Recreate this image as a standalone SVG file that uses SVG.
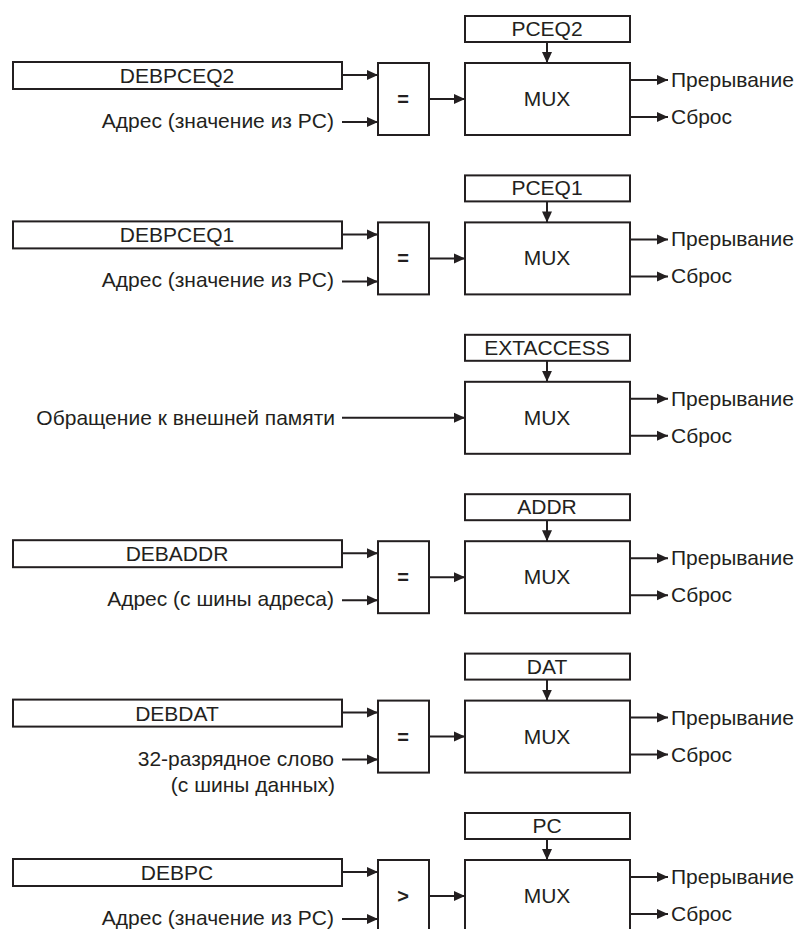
<svg xmlns="http://www.w3.org/2000/svg" width="798" height="929" viewBox="0 0 798 929">
<style>
.b{fill:#fff;stroke:#231f20;stroke-width:2}
.t{font-family:"Liberation Sans",Arial,sans-serif;font-size:21px;fill:#231f20}
.m{text-anchor:middle}
.e{text-anchor:end}
.o{font-weight:bold;font-size:20px}
.c{stroke:#231f20;stroke-width:2;fill:none;marker-end:url(#ah)}
</style>
<defs>
<marker id="ah" markerUnits="userSpaceOnUse" markerWidth="12" markerHeight="11" refX="11" refY="5.5" orient="auto"><path d="M0,0.5 L11,5.5 L0,10.5 z" fill="#231f20"/></marker>
</defs>
<rect width="798" height="929" fill="#fff"/>

<!-- Block 1 -->
<g transform="translate(0,0)">
<g id="sel1"><rect class="b" x="465" y="16" width="165" height="26"/><text class="t m" x="547" y="36">PCEQ2</text></g>
<g id="mux1"><rect class="b" x="465" y="63" width="165" height="72"/><text class="t m" x="547" y="106">MUX</text></g>
<g id="reg1"><rect class="b" x="13" y="62" width="329" height="27"/><text class="t m" x="177" y="83">DEBPCEQ2</text></g>
<g id="cmp1"><rect class="b" x="378" y="63" width="51" height="72"/><text class="t m o" x="403" y="106">=</text></g>
<g id="in1"><text class="t e" x="334" y="128">Адрес (значение из PC)</text></g>
<g id="out1"><text class="t" x="671" y="87">Прерывание</text><text class="t" x="671" y="124">Сброс</text></g>
<g id="conn1"><path class="c" d="M547,42V63"/><path class="c" d="M342,75H378"/><path class="c" d="M342,122H378"/><path class="c" d="M429,99H465"/><path class="c" d="M630,80H668"/><path class="c" d="M630,117H668"/></g>
</g>

<!-- Block 2 -->
<g transform="translate(0,159.4)">
<g id="sel2"><rect class="b" x="465" y="16" width="165" height="26"/><text class="t m" x="547" y="36">PCEQ1</text></g>
<g id="mux2"><rect class="b" x="465" y="63" width="165" height="72"/><text class="t m" x="547" y="106">MUX</text></g>
<g id="reg2"><rect class="b" x="13" y="62" width="329" height="27"/><text class="t m" x="177" y="83">DEBPCEQ1</text></g>
<g id="cmp2"><rect class="b" x="378" y="63" width="51" height="72"/><text class="t m o" x="403" y="106">=</text></g>
<g id="in2"><text class="t e" x="334" y="128">Адрес (значение из PC)</text></g>
<g id="out2"><text class="t" x="671" y="87">Прерывание</text><text class="t" x="671" y="124">Сброс</text></g>
<g id="conn2"><path class="c" d="M547,42V63"/><path class="c" d="M342,75H378"/><path class="c" d="M342,122H378"/><path class="c" d="M429,99H465"/><path class="c" d="M630,80H668"/><path class="c" d="M630,117H668"/></g>
</g>

<!-- Block 3 -->
<g transform="translate(0,318.8)">
<g id="sel3"><rect class="b" x="465" y="16" width="165" height="26"/><text class="t m" x="547" y="36">EXTACCESS</text></g>
<g id="mux3"><rect class="b" x="465" y="63" width="165" height="72"/><text class="t m" x="547" y="106">MUX</text></g>
<g id="in3"><text class="t e" x="335" y="106">Обращение к внешней памяти</text></g>
<g id="out3"><text class="t" x="671" y="87">Прерывание</text><text class="t" x="671" y="124">Сброс</text></g>
<g id="conn3"><path class="c" d="M342,99H465"/><path class="c" d="M547,42V63"/><path class="c" d="M630,80H668"/><path class="c" d="M630,117H668"/></g>
</g>

<!-- Block 4 -->
<g transform="translate(0,478.2)">
<g id="sel4"><rect class="b" x="465" y="16" width="165" height="26"/><text class="t m" x="547" y="36">ADDR</text></g>
<g id="mux4"><rect class="b" x="465" y="63" width="165" height="72"/><text class="t m" x="547" y="106">MUX</text></g>
<g id="reg4"><rect class="b" x="13" y="62" width="329" height="27"/><text class="t m" x="177" y="83">DEBADDR</text></g>
<g id="cmp4"><rect class="b" x="378" y="63" width="51" height="72"/><text class="t m o" x="403" y="106">=</text></g>
<g id="in4"><text class="t e" x="334" y="128">Адрес (с шины адреса)</text></g>
<g id="out4"><text class="t" x="671" y="87">Прерывание</text><text class="t" x="671" y="124">Сброс</text></g>
<g id="conn4"><path class="c" d="M547,42V63"/><path class="c" d="M342,75H378"/><path class="c" d="M342,122H378"/><path class="c" d="M429,99H465"/><path class="c" d="M630,80H668"/><path class="c" d="M630,117H668"/></g>
</g>

<!-- Block 5 -->
<g transform="translate(0,637.6)">
<g id="sel5"><rect class="b" x="465" y="16" width="165" height="26"/><text class="t m" x="547" y="36">DAT</text></g>
<g id="mux5"><rect class="b" x="465" y="63" width="165" height="72"/><text class="t m" x="547" y="106">MUX</text></g>
<g id="reg5"><rect class="b" x="13" y="62" width="329" height="27"/><text class="t m" x="177" y="83">DEBDAT</text></g>
<g id="cmp5"><rect class="b" x="378" y="63" width="51" height="72"/><text class="t m o" x="403" y="106">=</text></g>
<g id="in5"><text class="t e" x="334" y="128">32-разрядное слово</text><text class="t e" x="335" y="154">(с шины данных)</text></g>
<g id="out5"><text class="t" x="671" y="87">Прерывание</text><text class="t" x="671" y="124">Сброс</text></g>
<g id="conn5"><path class="c" d="M547,42V63"/><path class="c" d="M342,75H378"/><path class="c" d="M342,122H378"/><path class="c" d="M429,99H465"/><path class="c" d="M630,80H668"/><path class="c" d="M630,117H668"/></g>
</g>

<!-- Block 6 -->
<g transform="translate(0,797)">
<g id="sel6"><rect class="b" x="465" y="16" width="165" height="26"/><text class="t m" x="547" y="36">PC</text></g>
<g id="mux6"><rect class="b" x="465" y="63" width="165" height="72"/><text class="t m" x="547" y="106">MUX</text></g>
<g id="reg6"><rect class="b" x="13" y="62" width="329" height="27"/><text class="t m" x="177" y="83">DEBPC</text></g>
<g id="cmp6"><rect class="b" x="378" y="63" width="51" height="72"/><text class="t m o" x="403" y="106">&gt;</text></g>
<g id="in6"><text class="t e" x="334" y="128">Адрес (значение из PC)</text></g>
<g id="out6"><text class="t" x="671" y="87">Прерывание</text><text class="t" x="671" y="124">Сброс</text></g>
<g id="conn6"><path class="c" d="M547,42V63"/><path class="c" d="M342,75H378"/><path class="c" d="M342,122H378"/><path class="c" d="M429,99H465"/><path class="c" d="M630,80H668"/><path class="c" d="M630,117H668"/></g>
</g>
</svg>
